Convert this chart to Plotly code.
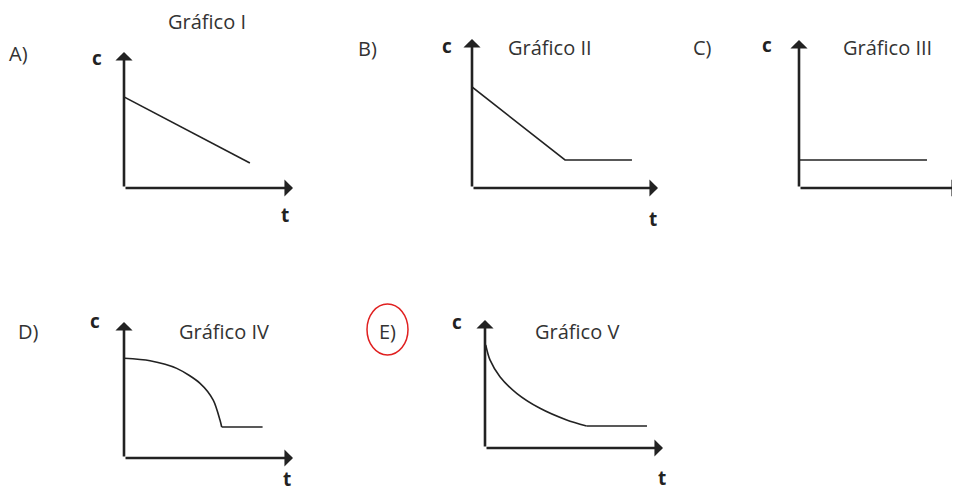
import plotly.graph_objects as go

# the page body adds an 8px margin, so the figure is drawn 8px smaller
OFF = 8
W, H = 960 - OFF, 493 - OFF

# curves, t and c in axis units (each axis runs 0..10)
t_1 = [0, 7.45]
c_1 = [6.7, 1.84]

t_2 = [0, 5.0, 8.6]
c_2 = [6.78, 1.88, 1.88]

t_3 = [0, 7.95]
c_3 = [1.89, 1.89]

t_4 = [0, 1.54, 3.12, 4.50, 5.28, 5.68, 5.78, 8.2]
c_4 = [7.33, 7.15, 6.59, 5.49, 4.26, 2.79, 2.28, 2.28]

t_5 = [0.04, 0.28, 0.84, 1.78, 3.09, 4.59, 5.71, 9.1]
c_5 = [8.05, 6.88, 5.57, 4.27, 3.10, 2.19, 1.72, 1.72]

titles = ["Gráfico I", "Gráfico II", "Gráfico III", "Gráfico IV", "Gráfico V"]
letters = ["A)", "B)", "C)", "D)", "E)"]


def px(x):
    return (x - OFF) / W


def py(y):
    return 1 - (y - OFF) / H


# origin x, origin y, x-axis end, y-axis end (pixels in the page)
panels = [
    (124, 188, 293, 52),
    (472, 188, 658, 39),
    (799, 188, 960, 40),
    (124, 458, 293, 322),
    (485, 448, 663, 320),
]

title_pos = [(207, 21), (550, 47), (887, 47), (224, 331), (577, 331)]
letter_pos = [(18, 53), (367, 48), (702, 47), (28, 331), (387, 331)]
c_pos = [(97, 58), (447, 46), (767, 45), (95, 321), (457, 322)]
t_pos = [(285, 215), (653, 219), None, (287, 479), (662, 478)]
x_tip = [10, 10, 10, 10, 10]
curved = [False, False, False, True, True]

curves = [(t_1, c_1), (t_2, c_2), (t_3, c_3), (t_4, c_4), (t_5, c_5)]

fig = go.Figure()
layout = {}
annotations = []
font_txt = dict(family="Open Sans", size=20, color="#333")
font_lbl = dict(family="Open Sans", size=19, color="#222")


def text_note(pos, text, font):
    return dict(x=px(pos[0]), y=py(pos[1]), xref="paper", yref="paper",
                xanchor="center", yanchor="middle", text=text,
                showarrow=False, font=font)


for i, (x0, y0, x1, y1) in enumerate(panels):
    n = "" if i == 0 else str(i + 1)
    xr, yr = "x" + n, "y" + n
    layout["xaxis" + n] = dict(domain=[px(x0), min(px(x1), 1)], range=[0, 10], visible=False,
                               fixedrange=True, anchor=yr)
    layout["yaxis" + n] = dict(domain=[py(y0), py(y1)], range=[0, 10], visible=False,
                               fixedrange=True, anchor=xr)
    t, c = curves[i]
    line = dict(color="#222", width=1.6)
    if curved[i]:
        # smooth falling part, then the straight flat tail
        fig.add_trace(go.Scatter(
            x=t[:-1], y=c[:-1], mode="lines", xaxis=xr, yaxis=yr,
            line=dict(line, shape="spline", smoothing=0.8),
            cliponaxis=False, hoverinfo="skip", showlegend=False
        ))
        fig.add_trace(go.Scatter(
            x=t[-2:], y=c[-2:], mode="lines", xaxis=xr, yaxis=yr, line=line,
            cliponaxis=False, hoverinfo="skip", showlegend=False
        ))
    else:
        fig.add_trace(go.Scatter(
            x=t, y=c, mode="lines", xaxis=xr, yaxis=yr, line=line,
            cliponaxis=False, hoverinfo="skip", showlegend=False
        ))
    # axis arrows
    for (hx, hy) in [(x_tip[i], 0), (0, 10)]:
        annotations.append(dict(
            x=hx, y=hy, ax=0, ay=0, xref=xr, yref=yr, axref=xr, ayref=yr,
            text="", showarrow=True, arrowhead=1, arrowsize=1.1,
            arrowwidth=2.6, arrowcolor="#222", standoff=0
        ))
    annotations.append(text_note(title_pos[i], titles[i], font_txt))
    annotations.append(text_note(letter_pos[i], letters[i], font_txt))
    annotations.append(text_note(c_pos[i], "<b>c</b>", font_lbl))
    if t_pos[i]:
        annotations.append(text_note(t_pos[i], "<b>t</b>", font_lbl))

fig.update_layout(
    width=W, height=H,
    margin=dict(l=0, r=0, t=0, b=0),
    paper_bgcolor="white", plot_bgcolor="white",
    annotations=annotations,
    shapes=[dict(type="circle", xref="paper", yref="paper",
                 x0=px(367), x1=px(408), y0=py(355), y1=py(304),
                 line=dict(color="#e02020", width=1.5))],
    **layout
)

fig.write_html("out.html")
